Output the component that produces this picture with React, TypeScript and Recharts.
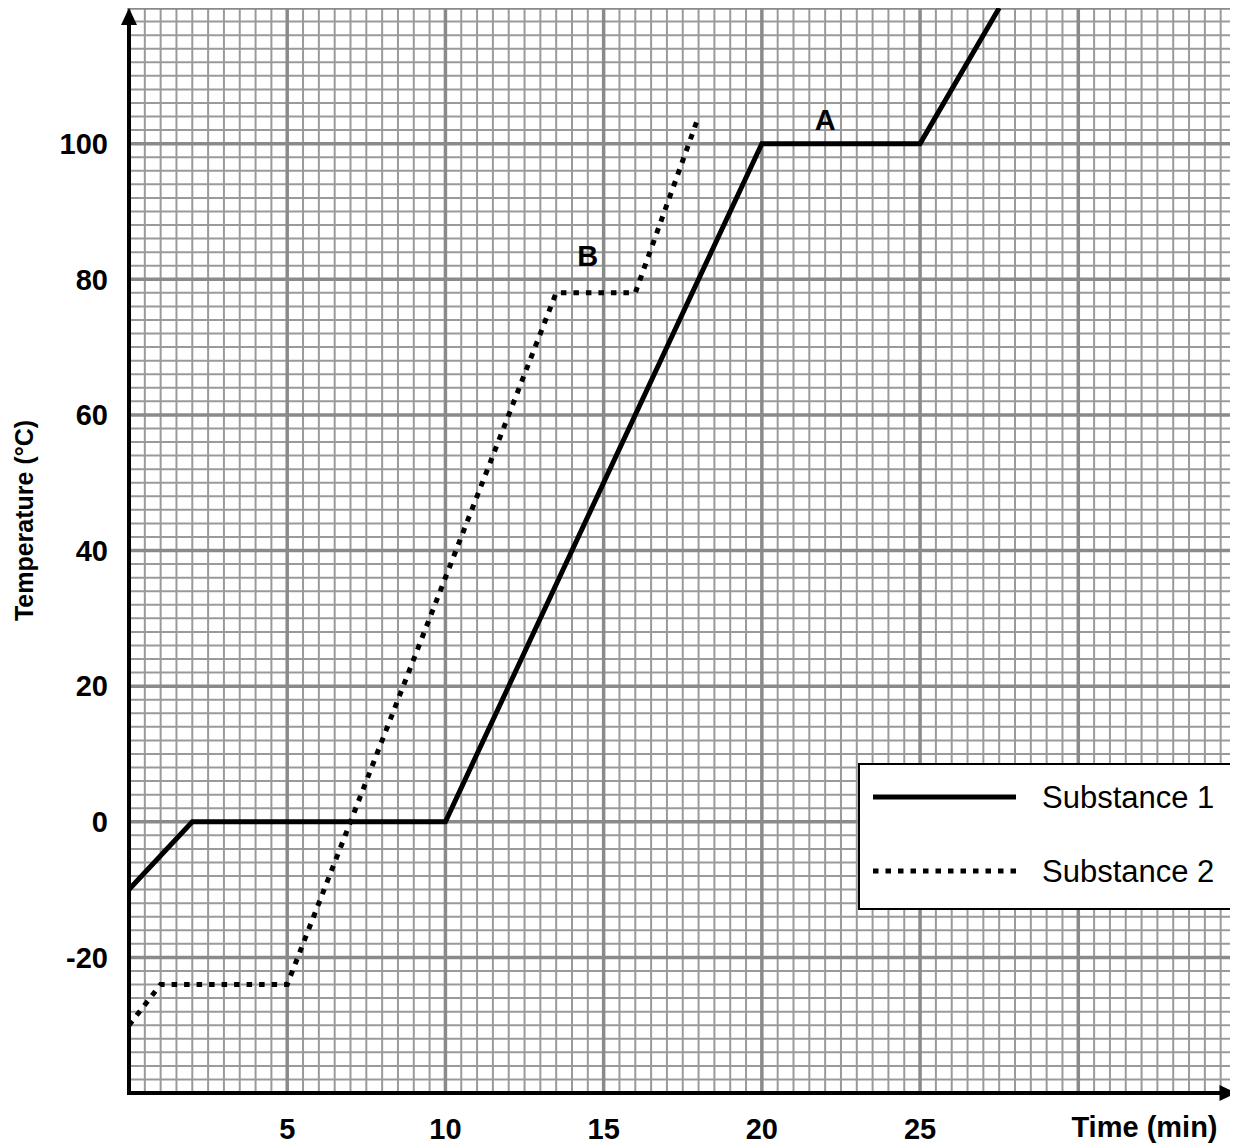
import { LineChart, Line, XAxis, YAxis, ReferenceLine, ReferenceDot, Legend } from "recharts"

const timeSubstance1 = [0, 2, 10, 20, 25, 27.5]
const tempSubstance1 = [-10, 0, 0, 100, 100, 120]
const timeSubstance2 = [0, 1, 5, 13.5, 16, 18]
const tempSubstance2 = [-30, -24, -24, 78, 78, 104]

const xTicks = [5, 10, 15, 20, 25]
const yTicks = [-20, 0, 20, 40, 60, 80, 100]
const xDomain = [0, 35]
const yDomain = [-40, 120]
const xMinorStep = 0.5
const yMinorStep = 2
const xMajorStep = 5
const yMajorStep = 20

const annotationText = ["A", "B"]
const annotationTime = [22, 14.5]
const annotationTemp = [103.5, 83.5]

const FONT = '"Liberation Sans", Arial, Helvetica, sans-serif'
const DOTTED = "5.5 7"

const series1 = timeSubstance1.map((t, i) => ({ time: t, temp: tempSubstance1[i] }))
const series2 = timeSubstance2.map((t, i) => ({ time: t, temp: tempSubstance2[i] }))

function steps(from: number, to: number, step: number) {
    const out: number[] = []
    for (let v = from; v <= to + 1e-9; v += step) out.push(Math.round(v * 100) / 100)
    return out
}

const xGrid = steps(xDomain[0], xDomain[1], xMinorStep)
const yGrid = steps(yDomain[0], yDomain[1], yMinorStep)
const isMajor = (v: number, step: number) => Math.abs(v / step - Math.round(v / step)) < 1e-6

// axis line with an arrow head at its far end
function ArrowLine(props: any) {
    const { x1, y1, x2, y2 } = props
    const dx = x2 - x1
    const dy = y2 - y1
    const len = Math.hypot(dx, dy) || 1
    const ux = dx / len
    const uy = dy / len
    const head = 17
    const half = 8
    const bx = x2 - ux * head
    const by = y2 - uy * head
    return (
        <g>
            <line x1={x1} y1={y1} x2={bx} y2={by} stroke="#000" strokeWidth={4} strokeLinecap="square" />
            <polygon
                points={`${x2},${y2} ${bx - uy * half},${by + ux * half} ${bx + uy * half},${by - ux * half}`}
                fill="#000"
            />
        </g>
    )
}

function LegendBox({ payload }: any) {
    const rows = payload ?? []
    return (
        <div
            style={{
                position: "relative",
                boxSizing: "border-box",
                width: 378,
                height: 147,
                border: "2px solid #000",
                background: "#fff",
                fontFamily: FONT,
                fontSize: 31,
                color: "#000",
            }}
        >
            {rows.map((entry: any, i: number) => (
                <div key={entry.value} style={{ position: "absolute", left: 0, top: 32 + i * 74, width: "100%" }}>
                    <svg width={150} height={10} style={{ position: "absolute", left: 13, top: -5 }}>
                        <line
                            x1={0}
                            y1={5}
                            x2={143}
                            y2={5}
                            stroke="#000"
                            strokeWidth={5}
                            strokeDasharray={entry.payload?.strokeDasharray}
                        />
                    </svg>
                    <span style={{ position: "absolute", left: 182, top: 0, transform: "translateY(-50%)", lineHeight: 1, whiteSpace: "nowrap" }}>
                        {entry.value}
                    </span>
                </div>
            ))}
        </div>
    )
}

const tickStyle = { fontSize: 29, fontWeight: "bold", fill: "#000", fontFamily: FONT }
const titleStyle = { fontSize: 25, fontWeight: "bold", fill: "#000", fontFamily: FONT }

export default function App() {
    return (
        <LineChart width={1230} height={1136} margin={{ top: 0, right: 1.5, left: 0, bottom: 6 }}>
            <XAxis
                dataKey="time"
                type="number"
                domain={xDomain}
                ticks={xTicks}
                height={45}
                axisLine={false}
                tickLine={false}
                tickMargin={19}
                tick={tickStyle}
                label={{
                    content: ({ viewBox }: any) => (
                        <text
                            x={viewBox.x + viewBox.width - 19}
                            y={viewBox.y + 34}
                            textAnchor="end"
                            dominantBaseline="central"
                            style={{ ...tickStyle }}
                        >
                            Time (min)
                        </text>
                    ),
                }}
            />
            <YAxis
                type="number"
                domain={yDomain}
                ticks={yTicks}
                width={121}
                axisLine={false}
                tickLine={false}
                tickMargin={15}
                tick={tickStyle}
                label={{
                    content: ({ viewBox }: any) => {
                        const cx = viewBox.x + 25
                        const cy = viewBox.y + viewBox.height / 2 - 30
                        return (
                            <text
                                x={cx}
                                y={cy}
                                transform={`rotate(-90 ${cx} ${cy})`}
                                textAnchor="middle"
                                style={titleStyle}
                            >
                                Temperature (°C)
                            </text>
                        )
                    },
                }}
            />

            {xGrid.filter(v => !isMajor(v, xMajorStep)).map(v => (
                <ReferenceLine key={`xm${v}`} x={v} stroke="#9a9a9a" strokeWidth={2} />
            ))}
            {yGrid.filter(v => !isMajor(v, yMajorStep)).map(v => (
                <ReferenceLine key={`ym${v}`} y={v} stroke="#9a9a9a" strokeWidth={2} />
            ))}
            {xGrid.filter(v => isMajor(v, xMajorStep)).map(v => (
                <ReferenceLine key={`xM${v}`} x={v} stroke="#8a8a8a" strokeWidth={3.5} />
            ))}
            {yGrid.filter(v => isMajor(v, yMajorStep)).map(v => (
                <ReferenceLine key={`yM${v}`} y={v} stroke="#8a8a8a" strokeWidth={3.5} />
            ))}

            <Line
                data={series1}
                dataKey="temp"
                name="Substance 1"
                type="linear"
                stroke="#000"
                strokeWidth={5}
                dot={false}
                activeDot={false}
                isAnimationActive={false}
            />
            <Line
                data={series2}
                dataKey="temp"
                name="Substance 2"
                type="linear"
                stroke="#000"
                strokeWidth={5}
                strokeDasharray={DOTTED}
                dot={false}
                activeDot={false}
                isAnimationActive={false}
            />

            <ReferenceLine
                segment={[{ x: xDomain[0], y: yDomain[0] }, { x: xDomain[0], y: yDomain[1] }]}
                ifOverflow="visible"
                shape={ArrowLine}
            />
            <ReferenceLine
                segment={[{ x: xDomain[0], y: yDomain[0] }, { x: xDomain[1], y: yDomain[0] }]}
                ifOverflow="visible"
                shape={ArrowLine}
            />

            {annotationText.map((txt, i) => (
                <ReferenceDot
                    key={txt}
                    x={annotationTime[i]}
                    y={annotationTemp[i]}
                    r={0}
                    fill="none"
                    stroke="none"
                    label={{ value: txt, position: "center", ...tickStyle }}
                />
            ))}

            <Legend
                layout="horizontal"
                verticalAlign="middle"
                align="center"
                content={<LegendBox />}
                wrapperStyle={{ left: 850, top: 755, right: "auto", width: 378, height: 147, margin: 0 }}
            />
        </LineChart>
    )
}
